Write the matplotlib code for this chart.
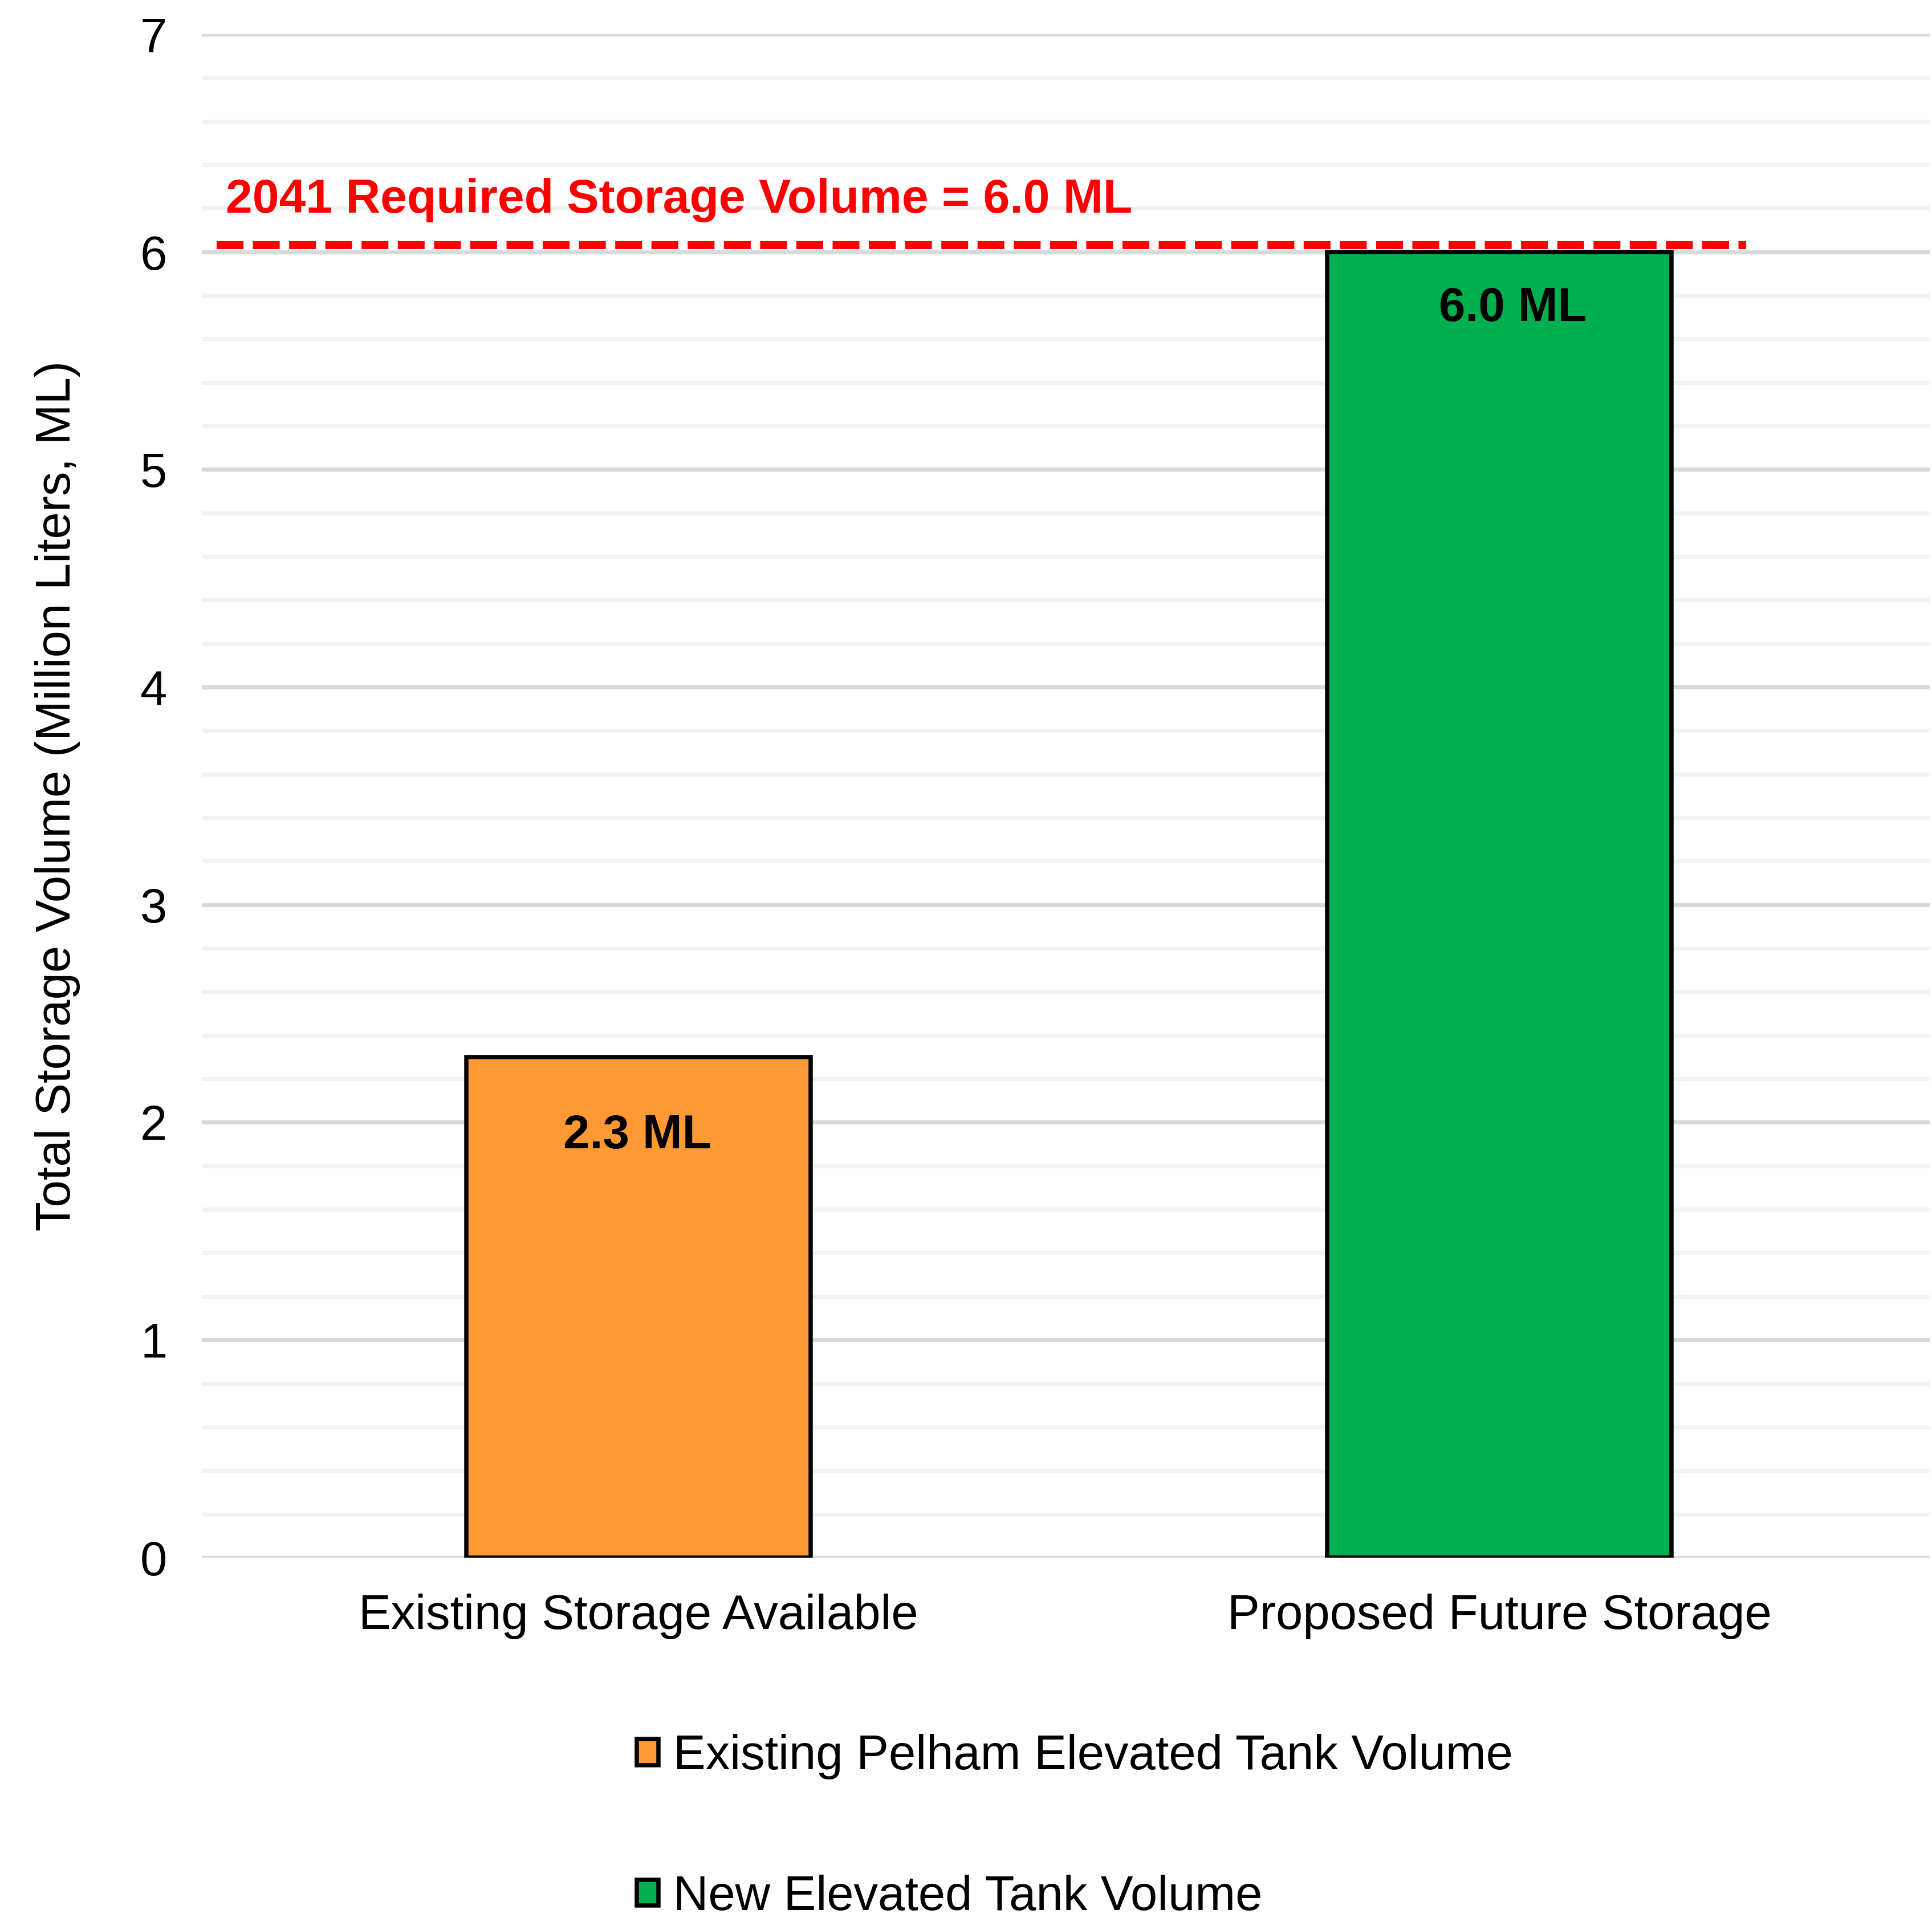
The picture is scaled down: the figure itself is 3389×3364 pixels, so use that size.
import numpy as np
import matplotlib
matplotlib.use('Agg')
import matplotlib.pyplot as plt
import matplotlib.transforms as mtransforms
from matplotlib.ticker import MultipleLocator, FixedLocator

# storage volumes (million litres)
categories = ['Existing Storage Available', 'Proposed Future Storage']
volumes = [2.3, 6.0]
series_names = ['Existing Pelham Elevated Tank Volume', 'New Elevated Tank Volume']
bar_colors = ['#FF9933', '#00B050']
required_year = 2041
required_volume = 6.0

plt.rcParams['font.family'] = ['Liberation Sans', 'DejaVu Sans']
plt.rcParams['font.size'] = 20.4

fig = plt.figure(figsize=(3389 / 300, 3364 / 300), dpi=300)
ax = fig.add_axes([0.1045, 0.1879, 0.8943, 0.7943])

x = np.arange(len(categories))
for i in range(len(categories)):
    ax.bar(x[i], volumes[i], width=0.4, color=bar_colors[i], edgecolor='black',
           linewidth=1.8, label=series_names[i], zorder=2)

# value labels just inside the top of each bar
label_shift = [(-0.5, -23.8), (5.7, -14.4)]
for i in range(len(categories)):
    ax.annotate('%.1f ML' % volumes[i], xy=(x[i], volumes[i]), xytext=label_shift[i],
                textcoords='offset points', ha='center', va='top',
                fontweight='bold', fontsize=20, color='black', zorder=4)

# required storage line, nudged a few pixels up so it sits above the gridline
line_span = (-0.49, 1.287)
off = mtransforms.offset_copy(ax.transData, fig=fig, x=0, y=12, units='dots')
ax.plot(line_span, [required_volume, required_volume], color='#FF0000', lw=3.36,
        linestyle=(0, (3.36, 1.18)), transform=off, zorder=5, clip_on=False)
ax.text(-0.4795, 6.18, '%d Required Storage Volume = %.1f ML' % (required_year, required_volume),
        color='#FF0000', fontweight='bold', fontsize=20.2, ha='left', va='baseline', zorder=5)

ax.set_xlim(-0.507, 1.5)
ax.set_ylim(0, 7)
ax.set_xticks(x, categories)
ax.yaxis.set_major_locator(MultipleLocator(1))
minor = [v for v in np.round(np.arange(0, 7.01, 0.2), 1) if abs(v - round(v)) > 1e-6]
ax.yaxis.set_minor_locator(FixedLocator(minor))

ax.tick_params(which='both', length=0, colors='black', labelsize=20.4)
ax.tick_params(axis='x', pad=15.2)
ax.tick_params(axis='y', pad=14.6)
ax.grid(which='major', axis='y', color='#D9D9D9', lw=1.75)
ax.grid(which='minor', axis='y', color='#F2F2F2', lw=1.75)
ax.set_axisbelow(True)
for s in ax.spines.values():
    s.set_visible(False)

ax.set_ylabel('Total Storage Volume (Million Liters, ML)', fontsize=20.4, color='black')
ax.yaxis.set_label_coords(-0.0703, 0.5)

fig.legend(loc='upper left', bbox_to_anchor=(0.3296, 0.0960), frameon=False,
           borderpad=0, borderaxespad=0, handlelength=0.45, handleheight=0.45,
           handletextpad=0.3, labelspacing=1.96, fontsize=20.4)

fig.savefig('out.png', dpi=300)
